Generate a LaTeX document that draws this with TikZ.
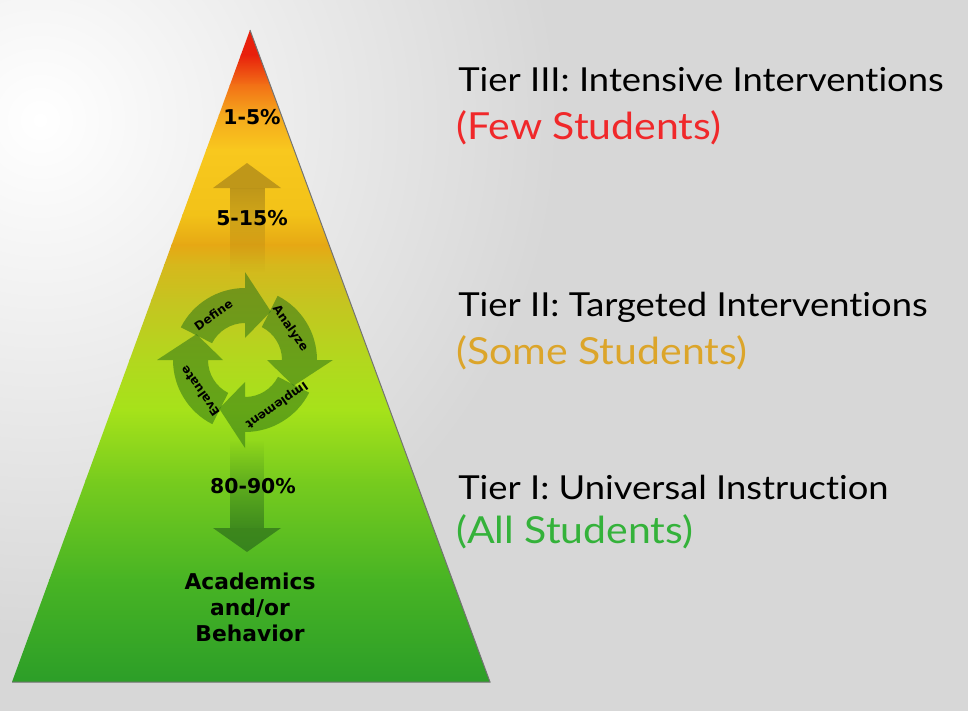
\documentclass[tikz,border=0pt]{standalone}
\usepackage{fontspec}
\setmainfont{Lato}[Ligatures=NoCommon]
\newfontfamily\labelfont{DejaVu Sans}
\usetikzlibrary{fadings}

\definecolor{bgGray}{HTML}{D7D7D7}
\definecolor{tierRed}{HTML}{F0282A}
\definecolor{tierGold}{HTML}{DCA52A}
\definecolor{tierGreen}{HTML}{34B23A}
\definecolor{ringGreen}{HTML}{2E7416}
\definecolor{upBrown}{HTML}{8A6A18}
\definecolor{downGreen}{HTML}{24601A}
% couleurs de la pyramide
\definecolor{pA}{HTML}{E8200C}
\definecolor{pB}{HTML}{F27016}
\definecolor{pC}{HTML}{F5A81C}
\definecolor{pD}{HTML}{F8C81E}
\definecolor{pE}{HTML}{F2C218}
\definecolor{pF}{HTML}{E6A814}
\definecolor{pG}{HTML}{D6B81C}
\definecolor{pH}{HTML}{C6C420}
\definecolor{pI}{HTML}{B2D81E}
\definecolor{pJ}{HTML}{A6E21A}
\definecolor{pK}{HTML}{78CC1E}
\definecolor{pL}{HTML}{48B424}
\definecolor{pM}{HTML}{2C9E28}

\begin{document}
\begin{tikzpicture}[x=0.025cm,y=-0.025cm,
  tiertext/.style={anchor=west,inner sep=0pt,xscale=1.1,font=\fontsize{23.5}{26}\selectfont},
  groupText/.style={tiertext,font=\fontsize{26.5}{29}\selectfont},
  pctlabel/.style={inner sep=0pt,font=\labelfont\bfseries\fontsize{14.5}{16}\selectfont},
  cyclelabel/.style={inner sep=0pt,font=\labelfont\bfseries\fontsize{8.5}{9}\selectfont},
  cyclearrow/.style={fill=ringGreen,fill opacity=0.55}]

\useasboundingbox (0,0) rectangle (968,711);

% Fond
\fill[bgGray] (0,0) rectangle (968,711);
\begin{scope}
\clip (0,0) rectangle (968,711);
\shade[inner color=white,outer color=bgGray] (40,120) circle (520);
\end{scope}

% Pyramide
\begin{scope}
\clip (250,30) -- (490,682) -- (12,682) -- cycle;
\foreach \ya/\ca/\yb/\cb in {30/pA/55/pA,55/pA/85/pB,85/pB/115/pC,115/pC/150/pD,150/pD/215/pE,
  215/pE/245/pF,245/pF/265/pG,265/pG/300/pH,300/pH/360/pI,360/pI/410/pJ,
  410/pJ/480/pK,480/pK/580/pL,580/pL/682/pM}
  \shade[top color=\ca,bottom color=\cb] (0,\ya-0.5) rectangle (500,\yb+0.5);
\end{scope}
\draw[black!55,line width=0.7] (250,30) -- (490,682) -- (12,682);

% Fleche vers le haut
\fill[upBrown,opacity=0.5,path fading=south] (230,188) rectangle (265,272);
\fill[upBrown,opacity=0.5] (213,188) -- (247,163) -- (281,188) -- cycle;

% Fleche vers le bas
\fill[downGreen,opacity=0.55,path fading=north] (230,440) rectangle (264,528);
\fill[downGreen,opacity=0.6] (213,528) -- (281,528) -- (247,552) -- cycle;

% Cycle
\begin{scope}[shift={(245,360)},y=0.025cm]
\foreach \b/\name in {90/Define,0/Analyze,-90/Implement,180/Evaluate}{
  \fill[cyclearrow] (\b+63:72) arc[start angle=\b+63,end angle=\b,radius=72]
    -- (\b:88) -- (\b-28:55) -- (\b:22) -- (\b:37)
    arc[start angle=\b,end angle=\b+63,radius=37] -- cycle;
  \node[cyclelabel,rotate=\b-55] (lbl\name) at (\b+35:55) {\name};
}
\end{scope}

% Pourcentages
\node[pctlabel] (pctTop) at (252,117) {1-5\%};
\node[pctlabel] (pctMid) at (252,218) {5-15\%};
\node[pctlabel] (pctBase) at (253,486) {80-90\%};
\node[pctlabel,align=center,font=\labelfont\bfseries\fontsize{15.5}{18.5}\selectfont]
  (focus) at (250,607) {Academics\\and/or\\Behavior};

% Textes a droite
\node[tiertext] (tierThree) at (458,80) {Tier III: Intensive Interventions};
\node[groupText,text=tierRed] (fewStud) at (456,128) {(Few Students)};
\node[tiertext] (tierTwo) at (458,307) {Tier II: Targeted Interventions};
\node[groupText,text=tierGold] (someStud) at (456,353) {(Some Students)};
\node[tiertext] (tierOne) at (458,487) {Tier I: Universal Instruction};
\node[groupText,text=tierGreen] (allStud) at (456,532) {(All Students)};
\end{tikzpicture}
\end{document}
